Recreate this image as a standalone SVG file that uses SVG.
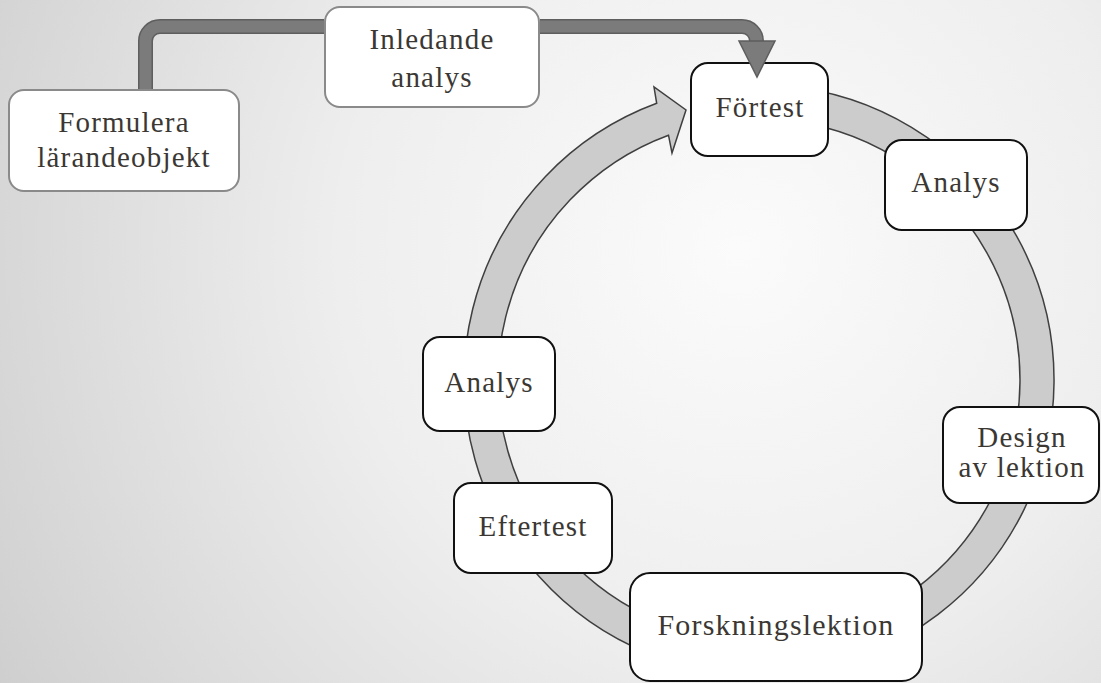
<svg xmlns="http://www.w3.org/2000/svg" width="1101" height="683" viewBox="0 0 1101 683">
  <defs>
    <radialGradient id="bg" gradientUnits="userSpaceOnUse" cx="740" cy="250" r="1000">
      <stop offset="0" stop-color="#fbfbfb"/>
      <stop offset="0.4" stop-color="#eeeeee"/>
      <stop offset="0.8" stop-color="#d3d3d3"/>
      <stop offset="1" stop-color="#c4c4c4"/>
    </radialGradient>
  </defs>
  <style>
    .box-top { fill: #ffffff; stroke: #8a8a8a; stroke-width: 2; }
    .box { fill: #ffffff; stroke: #111111; stroke-width: 2; }
    .lbl { font-family: "Liberation Serif", "Times New Roman", serif; font-size: 29px; letter-spacing: 1.2px; fill: #3b3834; text-anchor: middle; }
    .ring { fill: #cccccc; stroke: #3f3f3f; stroke-width: 1.5; stroke-linejoin: miter; }
    .conn-out { fill: none; stroke: #5e5e5e; stroke-width: 15; }
    .conn-in { fill: none; stroke: #7b7b7b; stroke-width: 12; }
    .conn-head { fill: #7b7b7b; stroke: #5e5e5e; stroke-width: 1.5; stroke-linejoin: miter; }
  </style>
  <rect x="0" y="0" width="1101" height="683" fill="url(#bg)"/>

  <g id="cycle-arrow">
    <path class="ring" d="M784.7,86.1 A295,295 0 1 1 656.7,103.3 L654,87 L686,110 L672,153 L668.5,135.2 A261,261 0 1 0 781.7,120 Z"/>
  </g>

  <g id="node-formulera">
    <rect class="box-top" x="9" y="90" width="230" height="101" rx="15"/>
    <text class="lbl" x="124" y="132">Formulera</text>
    <text class="lbl" x="124" y="167">lärandeobjekt</text>
  </g>
  <g id="node-inledande">
    <rect class="box-top" x="325" y="7" width="214" height="100" rx="15"/>
    <text class="lbl" x="432" y="49">Inledande</text>
    <text class="lbl" x="432" y="87">analys</text>
  </g>
  <g id="node-fortest">
    <rect class="box" x="691" y="63" width="137" height="93" rx="17"/>
    <text class="lbl" x="760" y="117">Förtest</text>
  </g>
  <g id="node-analys-right">
    <rect class="box" x="885" y="140" width="142" height="90" rx="17"/>
    <text class="lbl" x="956" y="192">Analys</text>
  </g>
  <g id="node-design">
    <rect class="box" x="943" y="407" width="156" height="96" rx="17"/>
    <text class="lbl" x="1022" y="447">Design</text>
    <text class="lbl" x="1022" y="477">av lektion</text>
  </g>
  <g id="node-forskning">
    <rect class="box" x="630" y="573" width="292" height="108" rx="20"/>
    <text class="lbl" x="776" y="635" style="font-size:30px">Forskningslektion</text>
  </g>
  <g id="node-eftertest">
    <rect class="box" x="454" y="483" width="158" height="90" rx="17"/>
    <text class="lbl" x="533" y="536">Eftertest</text>
  </g>
  <g id="node-analys-left">
    <rect class="box" x="423" y="337" width="132" height="94" rx="17"/>
    <text class="lbl" x="489" y="392">Analys</text>
  </g>

  <g id="connectors">
    <path class="conn-out" d="M145.5,89 V41 A14.5,14.5 0 0 1 160,26.5 H324"/>
    <path class="conn-in" d="M145.5,89 V41 A14.5,14.5 0 0 1 160,26.5 H324"/>
    <path class="conn-out" d="M540,26.5 H742 A14.5,14.5 0 0 1 756.5,41 V43"/>
    <path class="conn-in" d="M540,26.5 H742 A14.5,14.5 0 0 1 756.5,41 V44"/>
    <polygon class="conn-head" points="739,41 775,41 757,77"/>
  </g>
</svg>
